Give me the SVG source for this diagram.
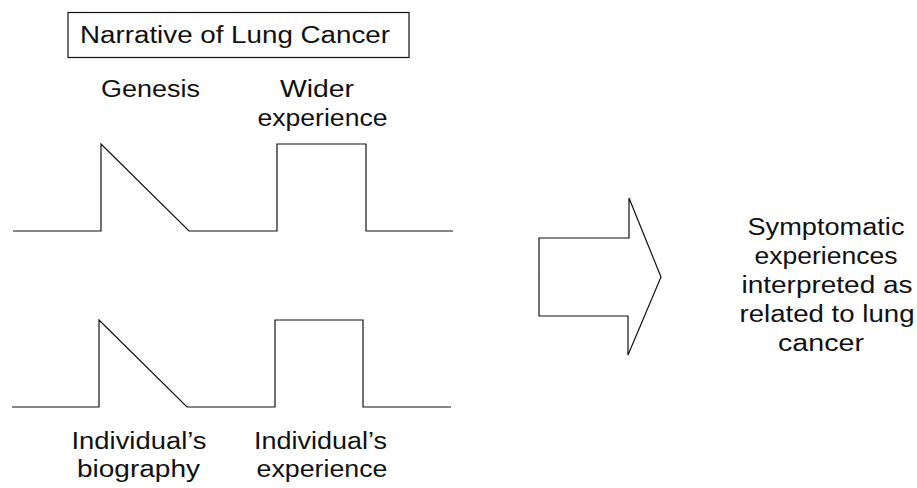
<svg xmlns="http://www.w3.org/2000/svg" width="917" height="488" viewBox="0 0 917 488">
<style>
  .t { font-family: "Liberation Sans", Arial, sans-serif; font-size: 23px; fill: #111; text-anchor: middle; }
  .ln { fill: none; stroke: #111; stroke-width: 1.2; stroke-linejoin: miter; }
</style>
<rect width="917" height="488" fill="#fff"/>
<g id="title">
  <rect x="68" y="12.5" width="341" height="45" class="ln"/>
  <text class="t" x="235" y="43" textLength="310" lengthAdjust="spacingAndGlyphs">Narrative of Lung Cancer</text>
</g>
<g id="genesis-label">
  <text class="t" x="150.5" y="97" textLength="99" lengthAdjust="spacingAndGlyphs">Genesis</text>
</g>
<g id="wider-label">
  <text class="t" x="317" y="97" textLength="74" lengthAdjust="spacingAndGlyphs">Wider</text>
  <text class="t" x="322.5" y="126" textLength="130" lengthAdjust="spacingAndGlyphs">experience</text>
</g>
<g id="top-wave">
  <polyline class="ln" points="13,231 101,231 101,144 189,231 277,231 277,144 366,144 366,231 453,231"/>
</g>
<g id="bottom-wave">
  <polyline class="ln" points="12,407 99,407 99,320 187,407 275,407 275,320 363,320 363,407 451,407"/>
</g>
<g id="biography-label">
  <text class="t" x="139" y="449" textLength="135" lengthAdjust="spacingAndGlyphs">Individual’s</text>
  <text class="t" x="138.5" y="477" textLength="123" lengthAdjust="spacingAndGlyphs">biography</text>
</g>
<g id="experience-label">
  <text class="t" x="320.5" y="449" textLength="133" lengthAdjust="spacingAndGlyphs">Individual’s</text>
  <text class="t" x="322" y="477" textLength="131" lengthAdjust="spacingAndGlyphs">experience</text>
</g>
<g id="connectors">
  <polygon class="ln" points="539,238 629,238 629,198 661,277 628,355 628,316 539,316"/>
</g>
<g id="outcome">
  <text class="t" x="826" y="235" textLength="157" lengthAdjust="spacingAndGlyphs">Symptomatic</text>
  <text class="t" x="826" y="264" textLength="143" lengthAdjust="spacingAndGlyphs">experiences</text>
  <text class="t" x="827" y="293" textLength="171" lengthAdjust="spacingAndGlyphs">interpreted as</text>
  <text class="t" x="827" y="322" textLength="175" lengthAdjust="spacingAndGlyphs">related to lung</text>
  <text class="t" x="821" y="351" textLength="86" lengthAdjust="spacingAndGlyphs">cancer</text>
</g>
</svg>
